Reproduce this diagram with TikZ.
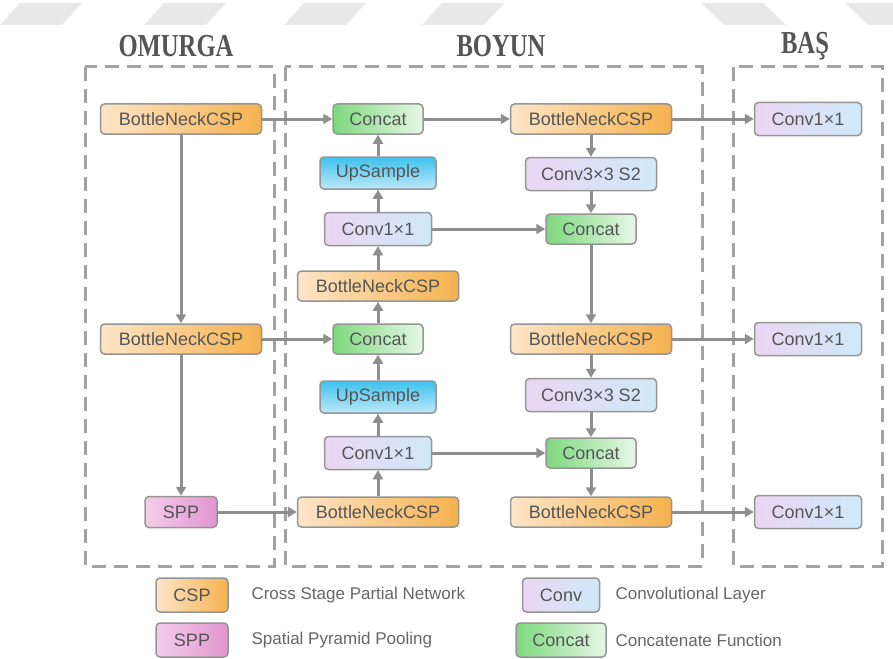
\documentclass[tikz,border=0pt]{standalone}
\usepackage{fontspec}
\setmainfont{Liberation Sans}
\newfontfamily\titlefont[FakeStretch=0.77]{Liberation Serif}
\usepackage{tikz}
\usetikzlibrary{arrows.meta,positioning,calc}
\definecolor{cspl}{HTML}{FDE5C8}
\definecolor{cspr}{HTML}{F5B24E}
\definecolor{convl}{HTML}{EBD6F2}
\definecolor{convr}{HTML}{CFE9F9}
\definecolor{catl}{HTML}{7ED87E}
\definecolor{catr}{HTML}{E6F7E6}
\definecolor{upt}{HTML}{3EC1EE}
\definecolor{upb}{HTML}{BDE8FA}
\definecolor{sppl}{HTML}{F4CDEA}
\definecolor{sppr}{HTML}{E195D0}
\definecolor{linegray}{HTML}{8E8E8E}
\definecolor{boxgray}{HTML}{959595}
\definecolor{dashgray}{HTML}{A3A3A3}
\definecolor{textgray}{HTML}{555555}
\definecolor{markgray}{HTML}{E8E8E8}
\tikzset{
  box/.style={rectangle, draw=boxgray, line width=1.5pt, rounded corners=4pt, text=textgray, inner sep=0pt, minimum height=30pt, font=\fontsize{18}{20}\selectfont},
  csp/.style={box, left color=cspl, right color=cspr, minimum width=161pt},
  conv/.style={box, left color=convl, right color=convr, minimum width=107pt, minimum height=33pt},
  cat/.style={box, left color=catl, right color=catr, minimum width=90pt},
  upsmp/.style={box, top color=upt, bottom color=upb, minimum width=116pt, minimum height=32pt},
  spp/.style={box, left color=sppl, right color=sppr, minimum width=72pt, minimum height=31pt},
  group/.style={draw=dashgray, line width=3pt, dash pattern=on 14pt off 8pt},
  title/.style={text=textgray, font=\titlefont\bfseries\fontsize{32}{34}\selectfont},
  legtext/.style={text=textgray!90, anchor=west, font=\fontsize{17}{20}\selectfont},
  link/.style={->, draw=linegray, line width=3pt}
}

\begin{document}
\begin{tikzpicture}[x=1pt, y=1pt, node distance=56pt, >={Triangle[length=9pt,width=10pt]}]
    \useasboundingbox (0,0) rectangle (893,-658);

    % watermark
    \foreach \a in {0,144,284,422}
        \fill[markgray] (\a,-25) -- (\a+20,-3) -- (\a+82,-3) -- (\a+62,-25) -- cycle;
    \foreach \b in {701,845}
        \fill[markgray] (\b,-3) -- (\b+62,-3) -- (\b+85,-25) -- (\b+23,-25) -- cycle;

    % groups
    \draw[group] (85,-67) rectangle (274,-566);
    \draw[group] (285,-67) rectangle (702,-566);
    \draw[group] (733,-67) rectangle (882,-566);
    \node[title] (tomurga) at (176,-46) {OMURGA};
    \node[title] (tboyun) at (501,-46) {BOYUN};
    \node[title] (tbas) at (805,-46) {BAŞ};

    % omurga
    \node[csp] (bb1) at (181,-119) {BottleNeckCSP};
    \node[csp, below of=bb1, node distance=220pt] (bb2) {BottleNeckCSP};
    \node[spp, below of=bb2, node distance=173pt] (spp) {SPP};

    % boyun
    \node[csp] (nb3) at (378,-512) {BottleNeckCSP};
    \node[conv, above of=nb3, node distance=59pt] (nc2) {Conv1×1};
    \node[upsmp, above of=nc2] (nu2) {UpSample};
    \node[cat, above of=nu2, node distance=58pt] (ncat2) {Concat};
    \node[csp, above of=ncat2, node distance=53pt] (nb2) {BottleNeckCSP};
    \node[conv, above of=nb2, node distance=57pt] (nc1) {Conv1×1};
    \node[upsmp, above of=nc1] (nu1) {UpSample};
    \node[cat, above of=nu1, node distance=54pt] (ncat1) {Concat};

    \node[csp, right of=ncat1, node distance=213pt] (rb1) {BottleNeckCSP};
    \node[conv, minimum width=131pt, below of=rb1, node distance=55pt] (rc1) {Conv3×3 S2};
    \node[cat, below of=rc1, node distance=55pt] (rcat1) {Concat};
    \node[csp, below of=rcat1, node distance=110pt] (rb2) {BottleNeckCSP};
    \node[conv, minimum width=131pt, below of=rb2] (rc2) {Conv3×3 S2};
    \node[cat, below of=rc2, node distance=58pt] (rcat2) {Concat};
    \node[csp, below of=rcat2, node distance=59pt] (rb3) {BottleNeckCSP};

    % bas
    \node[conv, right of=rb1, node distance=217pt] (h1) {Conv1×1};
    \node[conv, right of=rb2, node distance=217pt] (h2) {Conv1×1};
    \node[conv, right of=rb3, node distance=217pt] (h3) {Conv1×1};

    % links
    \draw[link] (bb1) -- (bb2);
    \draw[link] (bb2) -- (spp);
    \draw[link] (bb1) -- (ncat1);
    \draw[link] (bb2) -- (ncat2);
    \draw[link] (spp) -- (nb3);
    \draw[link] (nb3) -- (nc2);
    \draw[link] (nc2) -- (nu2);
    \draw[link] (nu2) -- (ncat2);
    \draw[link] (ncat2) -- (nb2);
    \draw[link] (nb2) -- (nc1);
    \draw[link] (nc1) -- (nu1);
    \draw[link] (nu1) -- (ncat1);
    \draw[link] (ncat1) -- (rb1);
    \draw[link] (rb1) -- (rc1);
    \draw[link] (rc1) -- (rcat1);
    \draw[link] (rcat1) -- (rb2);
    \draw[link] (rb2) -- (rc2);
    \draw[link] (rc2) -- (rcat2);
    \draw[link] (rcat2) -- (rb3);
    \draw[link] (nc1) -- (rcat1);
    \draw[link] (nc2) -- (rcat2);
    \draw[link] (rb1) -- (h1);
    \draw[link] (rb2) -- (h2);
    \draw[link] (rb3) -- (h3);

    % legend
    \node[csp, minimum width=72pt, minimum height=34pt] (lcsp) at (192,-595) {CSP};
    \node[spp, minimum height=34pt, below of=lcsp, node distance=45pt] (lspp) {SPP};
    \node[legtext] (tcsp) at (248,-595) {Cross Stage Partial Network};
    \node[legtext] (tspp) at (248,-640) {Spatial Pyramid Pooling};
    \node[conv, minimum width=77pt, minimum height=34pt] (lconv) at (561,-595) {Conv};
    \node[cat, minimum height=34pt, below of=lconv, node distance=45pt] (lcat) {Concat};
    \node[legtext] (tconv) at (612,-595) {Convolutional Layer};
    \node[legtext] (tcat) at (612,-640) {Concatenate Function};
\end{tikzpicture}
\end{document}
